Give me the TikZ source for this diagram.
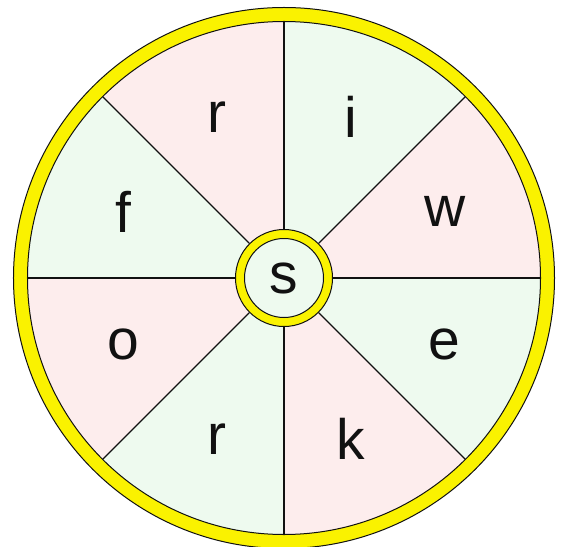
\documentclass[tikz,border=0pt]{standalone}
\usepackage{fontspec}
\setmainfont{Liberation Sans}
\usetikzlibrary{calc}
\definecolor{ink}{HTML}{111111}
\definecolor{rimyellow}{HTML}{FAF200}
\definecolor{softred}{HTML}{FDEDED}
\definecolor{softgreen}{HTML}{EEFAEF}
\tikzset{
  rim/.style={fill=rimyellow,draw=ink,line width=1pt,even odd rule},
  spoke/.style={draw=ink,line width=1.1pt},
  hubring/.style={circle,fill=rimyellow,draw=ink,line width=1pt,minimum size=97pt,inner sep=0pt},
  hubcore/.style={circle,fill=softgreen,draw=ink,line width=1pt,minimum size=79pt,inner sep=0pt},
  letter/.style={font=\fontsize{57}{60}\selectfont,text=ink,inner sep=0pt},
}

\begin{document}
\begin{tikzpicture}[x=1pt,y=1pt]
  \useasboundingbox (-284,-268) rectangle (277,278);

  % wedges
  \foreach \a/\c in {0/softred,45/softgreen,90/softred,135/softgreen,180/softred,225/softgreen,270/softred,315/softgreen}
    \fill[\c] (0,0) -- (\a:257) arc[start angle=\a,delta angle=45,radius=257] -- cycle;

  \node[hubring] (hub) at (0,0) {};
  \foreach \a in {0,45,...,315}
    \draw[spoke] (hub.\a) -- (\a:257);
  \node[hubcore,letter] (core) at (0,0) {s};

  \draw[rim] (0,0) circle[radius=270.5] circle[radius=256.5];

  \foreach \a/\t [count=\i] in {22.5/w,67.5/i,112.5/r,157.5/f,202.5/o,247.5/r,292.5/k,337.5/e}
    \node[letter] (l\i) at (\a:174) {\t};
\end{tikzpicture}
\end{document}
